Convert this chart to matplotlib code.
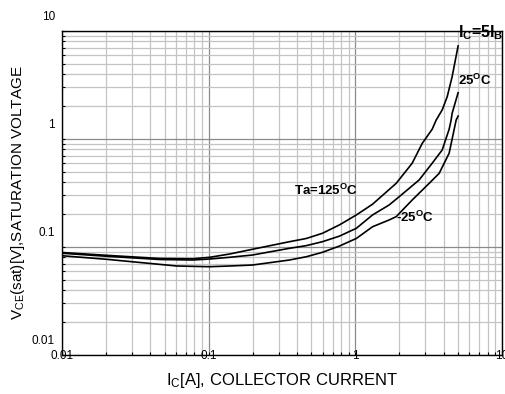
import matplotlib
matplotlib.use('Agg')
from matplotlib import pyplot as plt
from matplotlib import transforms

plt.rcParams['font.family'] = ['Liberation Sans', 'DejaVu Sans']
plt.rcParams['mathtext.fontset'] = 'custom'
plt.rcParams['mathtext.rm'] = 'Liberation Sans'
plt.rcParams['mathtext.bf'] = 'Liberation Sans:bold'
plt.rcParams['mathtext.it'] = 'Liberation Sans:italic'

# values (Ic in A, Vce(sat) in V)
ic_125 = [0.01, 0.0212, 0.0464, 0.0778, 0.1016, 0.139, 0.199, 0.356, 0.464, 0.597, 0.778,
          1.016, 1.31, 1.90, 2.44, 2.86, 3.34, 3.56, 3.91, 4.23, 4.57, 5.02]
v_125 = [0.0889, 0.0834, 0.0783, 0.0778, 0.0803, 0.0861, 0.0953, 0.112, 0.120, 0.134, 0.160,
         0.198, 0.249, 0.389, 0.596, 0.912, 1.23, 1.50, 1.86, 2.46, 3.77, 7.27]

ic_25 = [0.01, 0.0212, 0.0464, 0.0778, 0.1016, 0.139, 0.199, 0.356, 0.464, 0.597, 0.778,
         1.016, 1.31, 1.70, 1.99, 2.72, 3.34, 3.91, 4.36, 4.50, 4.57, 5.02]
v_25 = [0.0875, 0.0817, 0.0766, 0.0758, 0.0774, 0.0803, 0.0843, 0.0973, 0.103, 0.112, 0.126,
        0.149, 0.198, 0.245, 0.292, 0.417, 0.596, 0.791, 1.23, 1.50, 1.73, 2.68]

ic_m25 = [0.01, 0.0202, 0.0606, 0.1016, 0.139, 0.199, 0.356, 0.464, 0.597, 0.778, 1.016,
          1.31, 1.70, 1.90, 2.44, 3.19, 3.73, 4.36, 4.87, 5.02]
v_m25 = [0.0830, 0.0769, 0.0667, 0.0657, 0.0667, 0.0681, 0.0758, 0.0813, 0.0893, 0.102, 0.120,
         0.154, 0.178, 0.191, 0.272, 0.389, 0.481, 0.738, 1.50, 1.63]

ticks = [0.01, 0.1, 1, 10]
tick_labels = ['0.01', '0.1', '1', '10']

fig = plt.figure(figsize=(5.06, 3.94), dpi=100)
ax = fig.add_axes([62/506, 1-355/394, 440/506, 324/394])
ax.set_xscale('log')
ax.set_yscale('log')
ax.set_xlim(0.01, 10)
ax.set_ylim(0.01, 10)

ax.grid(which='major', color='#8a8a8a', lw=0.9)
ax.grid(which='minor', color='#c4c4c4', lw=0.9)
ax.set_axisbelow(True)

for c, v in [(ic_125, v_125), (ic_25, v_25), (ic_m25, v_m25)]:
    ax.plot(c, v, color='black', lw=1.2)

ax.set_xticks(ticks)
ax.set_yticks(ticks)
ax.set_xticklabels([])
ax.set_yticklabels([])
ax.tick_params(which='both', direction='in', length=2.5, width=0.8)
for s in ax.spines.values():
    s.set_linewidth(1.0)

# tick labels sit above the gridlines, as in the datasheet
ytr = transforms.offset_copy(ax.get_yaxis_transform(), fig=fig, x=-7, y=14, units='dots')
xtr = transforms.offset_copy(ax.get_xaxis_transform(), fig=fig, x=0, y=-1, units='dots')
for t, lab in zip(ticks, tick_labels):
    ax.text(0, t, lab, transform=ytr, ha='right', va='center', fontsize=8.5, clip_on=False)
    ax.text(t, 0, lab, transform=xtr, ha='center', va='center', fontsize=8.5, clip_on=False)

fig.text(282/506, 1-385/394, r'I$_\mathrm{C}$[A], COLLECTOR CURRENT',
         ha='center', va='baseline', fontsize=12)
fig.text(18.5/506, 1-193/394, r'V$_\mathrm{CE}$(sat)[V],SATURATION VOLTAGE',
         rotation=90, ha='center', va='center', fontsize=11)

ax.text(5.02, 8.8, r'I$_\mathbf{C}$=5I$_\mathbf{B}$', fontsize=11.5, weight='bold',
        ha='left', va='baseline', clip_on=False)
ax.text(5.0, 3.16, r'25$^\mathbf{O}$C', fontsize=9.5, weight='bold', ha='left', va='baseline')
ax.text(0.379, 0.303, r'Ta=125$^\mathbf{O}$C', fontsize=9.5, weight='bold', ha='left', va='baseline')
ax.text(1.90, 0.170, r'-25$^\mathbf{O}$C', fontsize=9.5, weight='bold', ha='left', va='baseline')

fig.savefig('out.png', dpi=100)
